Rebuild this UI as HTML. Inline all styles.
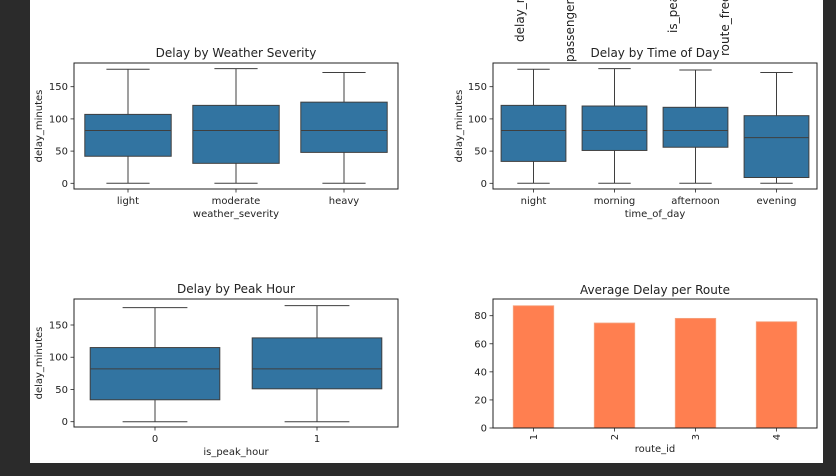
<!DOCTYPE html>
<html><head><meta charset="utf-8"><style>
html,body{margin:0;padding:0;background:#2b2b2b;}
svg{display:block;font-family:"DejaVu Sans","Liberation Sans",sans-serif;}
</style></head><body>
<svg id="s" width="836" height="476" viewBox="0 0 836 476" xmlns="http://www.w3.org/2000/svg">
<rect x="0" y="0" width="836" height="476" fill="#2b2b2b"/>
<rect x="30" y="0" width="793" height="463" fill="#ffffff"/>
<g font-size="12" fill="#222">
<text transform="translate(524,42) rotate(-90)">delay_minutes</text>
<text transform="translate(574,62) rotate(-90)">passenger_count</text>
<text transform="translate(677,33) rotate(-90)">is_peak_hour</text>
<text transform="translate(729,56) rotate(-90)">route_frequency</text>
</g>
<g id="charts"></g>
</svg>
<script>
const weatherCats = ["light","moderate","heavy"];
const weatherQ1 = [42,31,48];
const weatherMed = [82,82,82];
const weatherQ3 = [107,121,126];
const weatherMin = [0,0,0];
const weatherMax = [177,178,172];

const timeCats = ["night","morning","afternoon","evening"];
const timeQ1 = [34,51,56,9];
const timeMed = [82,82,82,71];
const timeQ3 = [121,120,118,105];
const timeMin = [0,0,0,0];
const timeMax = [177,178,176,172];

const peakCats = ["0","1"];
const peakQ1 = [34,51];
const peakMed = [82,82];
const peakQ3 = [115,130];
const peakMin = [0,0];
const peakMax = [177,180];

const routeCats = ["1","2","3","4"];
const routeAvg = [87.1,74.8,78.1,75.7];
const routeTicks = [0,20,40,60,80];
const boxTicks = [0,50,100,150];

const NS = "http://www.w3.org/2000/svg";
const root = document.getElementById("charts");
function mk(tag, attrs, parent){
  const e = document.createElementNS(NS, tag);
  for (const k in attrs) e.setAttribute(k, attrs[k]);
  (parent||root).appendChild(e);
  return e;
}
function txt(parent, x, y, s, attrs){
  const t = mk("text", Object.assign({x:x, y:y}, attrs||{}), parent);
  t.textContent = s;
  return t;
}

function boxPanel(name, L, R, T, B, y0px, y150px, cats, q1, med, q3, mn, mx, title, xlabel, ylx){
  const g = mk("g", {});
  
  
  const yS = v => y0px + (y150px - y0px) * v / 150;
  const band = (R - L) / cats.length;
  const xC = i => L + band * (i + 0.5);
  const bw = band * 0.8;
  cats.forEach((c, i) => {
    const cx = xC(i);
    const bg = mk("g", {}, g);
    
    
    mk("line", {x1:cx, x2:cx, y1:yS(q3[i]), y2:yS(mx[i]), stroke:"#3f3f3f", "stroke-width":1}, bg);
    mk("line", {x1:cx, x2:cx, y1:yS(q1[i]), y2:yS(mn[i]), stroke:"#3f3f3f", "stroke-width":1}, bg);
    mk("line", {x1:cx-bw/4, x2:cx+bw/4, y1:yS(mx[i]), y2:yS(mx[i]), stroke:"#3f3f3f", "stroke-width":1}, bg);
    mk("line", {x1:cx-bw/4, x2:cx+bw/4, y1:yS(mn[i]), y2:yS(mn[i]), stroke:"#3f3f3f", "stroke-width":1}, bg);
    mk("rect", {x:cx-bw/2, y:yS(q3[i]), width:bw, height:yS(q1[i])-yS(q3[i]), fill:"#3274a1", stroke:"#3f3f3f", "stroke-width":1}, bg);
    mk("line", {x1:cx-bw/2, x2:cx+bw/2, y1:yS(med[i]), y2:yS(med[i]), stroke:"#3f3f3f", "stroke-width":1}, bg);
    mk("line", {x1:cx, x2:cx, y1:B, y2:B+3.5, stroke:"#222", "stroke-width":0.8}, g);
    const t = txt(g, cx, B+15, c, {"font-size":10, "text-anchor":"middle", fill:"#222"});
    
    
  });
  boxTicks.forEach(v => {
    mk("line", {x1:L-3.5, x2:L, y1:yS(v), y2:yS(v), stroke:"#222", "stroke-width":0.8}, g);
    const t = txt(g, L-6, yS(v)+3.5, String(v), {"font-size":10, "text-anchor":"end", fill:"#222"});
    
    
  });
  const fr = mk("rect", {x:L, y:T, width:R-L, height:B-T, fill:"none", stroke:"#222", "stroke-width":1}, g);
  
  
  const tt = txt(g, (L+R)/2, T-6, title, {"font-size":12, "text-anchor":"middle", fill:"#222"});
  
  
  const xl = txt(g, (L+R)/2, B+28, xlabel, {"font-size":10, "text-anchor":"middle", fill:"#222"});
  
  
  const yl = txt(g, 0, 0, "delay_minutes", {"font-size":10, "text-anchor":"middle", fill:"#222", transform:"translate("+ylx+","+((T+B)/2)+") rotate(-90)"});
  
  
}

boxPanel("weather-boxplot", 74, 398, 63, 189, 183.3, 86.7, weatherCats, weatherQ1, weatherMed, weatherQ3, weatherMin, weatherMax, "Delay by Weather Severity", "weather_severity", 42);
boxPanel("time-of-day-boxplot", 493, 817, 63, 189, 183.3, 86.7, timeCats, timeQ1, timeMed, timeQ3, timeMin, timeMax, "Delay by Time of Day", "time_of_day", 462);
boxPanel("peak-hour-boxplot", 74, 398, 299, 427, 421.7, 325, peakCats, peakQ1, peakMed, peakQ3, peakMin, peakMax, "Delay by Peak Hour", "is_peak_hour", 42);

(function(){
  const L=493, R=817, T=299, B=428;
  const g = mk("g", {});
  
  
  const yS = v => B - (B - 315.7) * v / 80;
  const band = (R-L)/routeCats.length;
  routeCats.forEach((c,i) => {
    const cx = L + band*(i+0.5);
    const r = mk("rect", {x:cx-band/4, y:yS(routeAvg[i]), width:band/2, height:B-yS(routeAvg[i]), fill:"#ff7f50", stroke:"#f4a582", "stroke-width":0.8}, g);
    
    
    mk("line", {x1:cx, x2:cx, y1:B, y2:B+3.5, stroke:"#222", "stroke-width":0.8}, g);
    const t = txt(g, 0, 0, c, {"font-size":10, "text-anchor":"middle", fill:"#222", transform:"translate("+(cx+3.5)+","+(B+9)+") rotate(-90)"});
    
    
  });
  routeTicks.forEach(v => {
    mk("line", {x1:L-3.5, x2:L, y1:yS(v), y2:yS(v), stroke:"#222", "stroke-width":0.8}, g);
    const t = txt(g, L-6, yS(v)+3.5, String(v), {"font-size":10, "text-anchor":"end", fill:"#222"});
    
    
  });
  const fr = mk("rect", {x:L, y:T, width:R-L, height:B-T, fill:"none", stroke:"#222", "stroke-width":1}, g);
  
  
  const tt = txt(g, (L+R)/2, T-5, "Average Delay per Route", {"font-size":12, "text-anchor":"middle", fill:"#222"});
  
  
  const xl = txt(g, (L+R)/2, 452, "route_id", {"font-size":10, "text-anchor":"middle", fill:"#222"});
  
  
})();
</script>
</body></html>
